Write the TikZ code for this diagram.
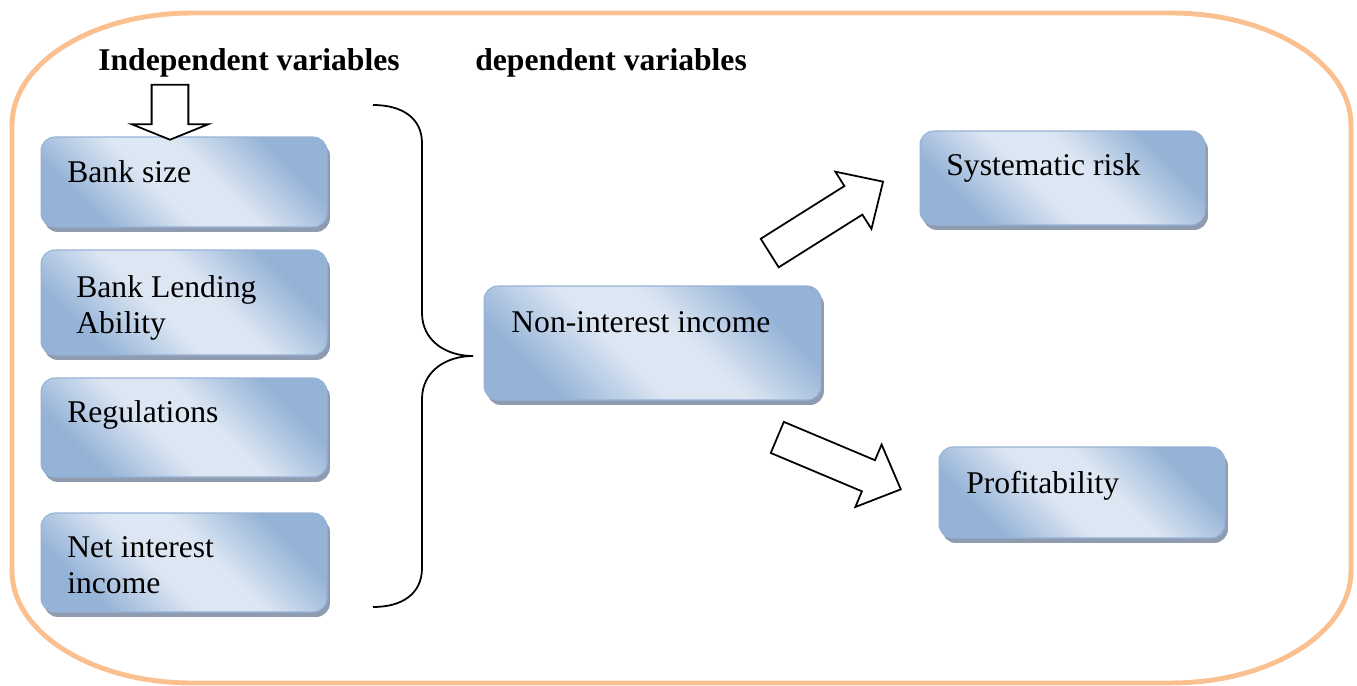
\documentclass[tikz,border=0pt]{standalone}
\usepackage{fontspec}
\setmainfont{Liberation Serif}
\usetikzlibrary{shapes.arrows,shadows}

\definecolor{frameorange}{RGB}{250,192,143}
\definecolor{boxblue}{RGB}{149,179,215}
\definecolor{boxlight}{RGB}{221,231,243}
\definecolor{boxedge}{RGB}{150,178,214}
\definecolor{boxshadow}{RGB}{143,156,176}

\pgfdeclareverticalshading{boxshade}{100bp}{color(0bp)=(boxblue); color(27bp)=(boxblue);
  color(44bp)=(boxlight); color(56bp)=(boxlight); color(73bp)=(boxblue); color(100bp)=(boxblue)}

\tikzset{
  varbox/.style={rectangle, rounded corners=0.28cm, draw=boxedge, line width=0.6pt,
    shading=boxshade, shading angle=-45,
    drop shadow={shadow xshift=0.06cm, shadow yshift=-0.1cm, fill=boxshadow, opacity=1}},
  vartext/.style={inner sep=0pt, align=left, font=\fontsize{18}{20.5}\selectfont},
  heading/.style={inner sep=0pt, font=\bfseries\fontsize{18}{20.5}\selectfont},
  blockarrow/.style={single arrow, draw=black, fill=white, line width=1pt, inner xsep=0pt},
  frameline/.style={draw=frameorange, line width=2.8pt},
  braceline/.style={draw=black, line width=1pt}
}

\begin{document}
\begin{tikzpicture}[x=0.02cm, y=0.02cm]
  \useasboundingbox (0,0) rectangle (1357,-686);
  \draw[frameline] (192,-13) -- (1171,-13)
    arc[start angle=90, end angle=0, x radius=3.6cm, y radius=2.24cm] -- (1351,-571)
    arc[start angle=0, end angle=-90, x radius=3.6cm, y radius=2.24cm] -- (192,-683)
    arc[start angle=270, end angle=180, x radius=3.6cm, y radius=2.24cm] -- (12,-125)
    arc[start angle=180, end angle=90, x radius=3.6cm, y radius=2.24cm] -- cycle;

  \node[heading, anchor=base west] (indep) at (98,-71) {Independent variables};
  \node[heading, anchor=base west] (dep) at (475,-71) {dependent variables};

  \node[varbox, minimum width=5.72cm, minimum height=1.8cm] (size) at (184,-182) {};
  \node[varbox, minimum width=5.72cm, minimum height=2.1cm] (lending) at (184,-302.5) {};
  \node[varbox, minimum width=5.72cm, minimum height=1.98cm] (regul) at (184,-427.5) {};
  \node[varbox, minimum width=5.72cm, minimum height=1.98cm] (netint) at (184,-562.5) {};
  \node[varbox, minimum width=6.74cm, minimum height=2.28cm] (nonint) at (652.5,-343) {};
  \node[varbox, minimum width=5.7cm, minimum height=1.88cm] (risk) at (1062.5,-178) {};
  \node[varbox, minimum width=5.72cm, minimum height=1.82cm] (profit) at (1082,-492.5) {};

  \node[vartext, anchor=base west] (sizetext) at (67,-183) {Bank size};
  \node[vartext, anchor=west] (lendingtext) at (76,-307.6) {Bank Lending\\Ability};
  \node[vartext, anchor=base west] (regultext) at (67,-422) {Regulations};
  \node[vartext, anchor=west] (netinttext) at (67,-565.6) {Net interest\\income};
  \node[vartext, anchor=base west] (noninttext) at (511,-332) {Non-interest income};
  \node[vartext, anchor=base west] (risktext) at (946,-175) {Systematic risk};
  \node[vartext, anchor=base west] (profittext) at (966,-493) {Profitability};

  \node[blockarrow, minimum height=1.1cm, inner ysep=0.35cm, single arrow head extend=0.4cm,
    single arrow tip angle=136, rotate=-90] (downarrow) at (170,-108.5) {};
  \node[blockarrow, minimum height=2.68cm, inner ysep=0.32cm, single arrow head extend=0.34cm,
    single arrow tip angle=88, rotate=32.2] (toriskarrow) at (819,-222) {};
  \node[blockarrow, minimum height=2.68cm, inner ysep=0.32cm, single arrow head extend=0.34cm,
    single arrow tip angle=88, rotate=-22.8] (toprofitarrow) at (831,-460) {};

  \draw[braceline] (373,-105) .. controls (402,-105) and (422,-118) .. (422,-143) -- (422,-313)
    .. controls (422,-340) and (445,-356) .. (473,-356)
    .. controls (445,-356) and (422,-372) .. (422,-399) -- (422,-568)
    .. controls (422,-594) and (402,-607) .. (373,-607);
\end{tikzpicture}
\end{document}
